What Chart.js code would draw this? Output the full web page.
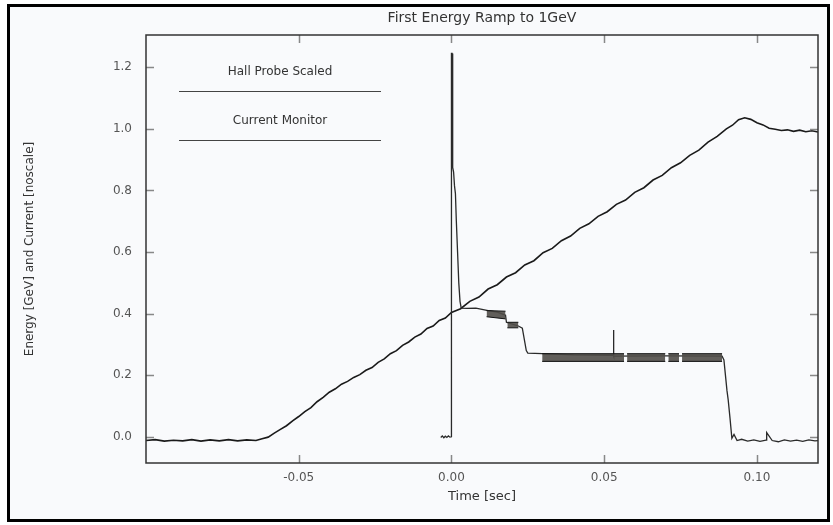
<!DOCTYPE html>
<html>
<head>
<meta charset="utf-8">
<title>First Energy Ramp to 1GeV</title>
<script src="https://cdn.jsdelivr.net/npm/chart.js@4.4.1/dist/chart.umd.min.js"></script>
<style>
    body { margin: 0; background: #ffffff; }
    #wrap { width: 833px; height: 525px; }
</style>
</head>
<body>
<div id="wrap"><canvas id="rampChart" width="833" height="525"></canvas></div>
<script>
// Hall probe (energy) ma'lumotlari
const energyTime = [
    -0.100, -0.097, -0.094, -0.091, -0.088, -0.085, -0.082, -0.079, -0.076, -0.073,
    -0.070, -0.067, -0.064, -0.062, -0.060, -0.058, -0.056, -0.054, -0.052, -0.050,
    -0.048, -0.046, -0.044, -0.042, -0.040, -0.038, -0.036, -0.034, -0.032, -0.030,
    -0.028, -0.026, -0.024, -0.022, -0.020, -0.018, -0.016, -0.014, -0.012, -0.010,
    -0.008, -0.006, -0.004, -0.002, 0.000, 0.003, 0.006, 0.009, 0.012, 0.015,
    0.018, 0.021, 0.024, 0.027, 0.030, 0.033, 0.036, 0.039, 0.042, 0.045,
    0.048, 0.051, 0.054, 0.057, 0.060, 0.063, 0.066, 0.069, 0.072, 0.075,
    0.078, 0.081, 0.084, 0.087, 0.090, 0.092, 0.094, 0.096, 0.098, 0.100,
    0.102, 0.104, 0.106, 0.108, 0.110, 0.112, 0.114, 0.116, 0.118, 0.120
];
const energyValue = [
    -0.012, -0.009, -0.014, -0.011, -0.013, -0.009, -0.014, -0.010, -0.013, -0.009,
    -0.013, -0.010, -0.012, -0.006, -0.001, 0.012, 0.024, 0.036, 0.052, 0.066,
    0.082, 0.095, 0.114, 0.128, 0.145, 0.156, 0.171, 0.180, 0.193, 0.202,
    0.216, 0.225, 0.242, 0.253, 0.270, 0.280, 0.297, 0.308, 0.324, 0.334,
    0.352, 0.360, 0.378, 0.386, 0.404, 0.416, 0.440, 0.454, 0.480, 0.494,
    0.519, 0.533, 0.558, 0.572, 0.598, 0.612, 0.637, 0.652, 0.677, 0.692,
    0.716, 0.731, 0.755, 0.769, 0.794, 0.809, 0.834, 0.849, 0.874, 0.890,
    0.914, 0.931, 0.957, 0.976, 1.000, 1.012, 1.030, 1.036, 1.031, 1.020,
    1.013, 1.002, 0.999, 0.995, 0.997, 0.992, 0.996, 0.991, 0.994, 0.990
];

// Current monitor ma'lumotlari
const currentTime = [
    -0.0035, -0.0030, -0.0025, -0.0020, -0.0015, -0.0010, -0.0005, 0.0000, 0.0000, 0.0002,
    0.0004, 0.0007, 0.0010, 0.0013, 0.0016, 0.0020, 0.0024, 0.0028, 0.0032, 0.0050,
    0.0080, 0.0100, 0.0120, 0.0150, 0.0177, 0.0180, 0.0219, 0.0232, 0.0245, 0.0250,
    0.0297, 0.0400, 0.0530, 0.0530, 0.0532, 0.0700, 0.0886, 0.0892, 0.0898, 0.0902,
    0.0906, 0.0912, 0.0918, 0.0925, 0.0935, 0.0950, 0.0970, 0.0990, 0.1010, 0.1030,
    0.1032, 0.1050, 0.1070, 0.1090, 0.1110, 0.1130, 0.1150, 0.1170, 0.1190, 0.1200
];
const currentValue = [
    -0.002, 0.003, -0.003, 0.002, -0.002, 0.003, -0.001, 0.000, 1.245, 1.245,
    0.875, 0.860, 0.815, 0.790, 0.700, 0.600, 0.500, 0.440, 0.418, 0.417,
    0.418, 0.414, 0.410, 0.405, 0.395, 0.372, 0.360, 0.353, 0.280, 0.272,
    0.270, 0.266, 0.265, 0.347, 0.262, 0.263, 0.262, 0.250, 0.190, 0.150,
    0.120, 0.060, -0.005, 0.008, -0.012, -0.008, -0.014, -0.010, -0.015, -0.011,
    0.014, -0.012, -0.016, -0.010, -0.014, -0.011, -0.015, -0.010, -0.013, -0.012
];

// Current monitor shovqin polosasi (null = uzilish)
const bandTime = [
    0.0115, 0.0177, 0.0180,
    0.0183, 0.0219, 0.0222,
    0.0297, 0.0565, 0.0570,
    0.0575, 0.0700, 0.0705,
    0.0710, 0.0745, 0.0750,
    0.0755, 0.0886
];
const bandHigh = [
    0.410, 0.408, null,
    0.372, 0.372, null,
    0.270, 0.270, null,
    0.270, 0.270, null,
    0.270, 0.270, null,
    0.270, 0.270
];
const bandLow = [
    0.390, 0.383, null,
    0.354, 0.354, null,
    0.245, 0.245, null,
    0.245, 0.245, null,
    0.245, 0.245, null,
    0.245, 0.245
];

const xTicks = [-0.05, 0.00, 0.05, 0.10];
const yTicks = [0.0, 0.2, 0.4, 0.6, 0.8, 1.0, 1.2];
const legendLabels = ['Hall Probe Scaled', 'Current Monitor'];
const chartTitle = 'First Energy Ramp to 1GeV';

function toPoints(xs, ys) {
    return xs.map((x, i) => ({ x: x, y: ys[i] }));
}

const FONT = '"DejaVu Sans", "Liberation Sans", sans-serif';

// Ramka, sarlavha, ichki chiziqchalar va legenda
const framePlugin = {
    id: 'frame',
    beforeDraw(chart) {
        const c = chart.ctx;
        c.save();
        c.fillStyle = '#ffffff';
        c.fillRect(0, 0, chart.width, chart.height);
        c.fillStyle = '#f9fafc';
        c.fillRect(9, 6, 820, 515);
        c.strokeStyle = '#000000';
        c.lineWidth = 3;
        c.strokeRect(8.5, 5.5, 820, 515);
        c.restore();
    },
    afterDraw(chart) {
        const c = chart.ctx;
        const a = chart.chartArea;
        const xs = chart.scales.x;
        const ys = chart.scales.y;
        c.save();

        // sarlavha
        c.fillStyle = '#333333';
        c.font = '14px ' + FONT;
        c.textAlign = 'center';
        c.textBaseline = 'middle';
        c.fillText(chartTitle, (a.left + a.right) / 2, 18);

        // ichki chiziqchalar
        c.strokeStyle = '#888888';
        c.lineWidth = 1.5;
        const len = 8;
        xTicks.forEach(v => {
            const px = Math.round(xs.getPixelForValue(v)) + 0.5;
            c.beginPath();
            c.moveTo(px, a.bottom); c.lineTo(px, a.bottom - len);
            c.moveTo(px, a.top); c.lineTo(px, a.top + len);
            c.stroke();
        });
        yTicks.forEach(v => {
            const py = Math.round(ys.getPixelForValue(v)) + 0.5;
            c.beginPath();
            c.moveTo(a.left, py); c.lineTo(a.left + len, py);
            c.moveTo(a.right, py); c.lineTo(a.right - len, py);
            c.stroke();
        });

        // chizma ramkasi
        c.strokeStyle = '#333333';
        c.lineWidth = 1.5;
        c.strokeRect(a.left, a.top, a.right - a.left, a.bottom - a.top);

        // legenda
        c.fillStyle = '#333333';
        c.font = '12px ' + FONT;
        c.strokeStyle = '#444444';
        c.lineWidth = 1.2;
        legendLabels.forEach((label, i) => {
            const ty = 72 + i * 49;
            c.fillText(label, 280, ty);
            c.beginPath();
            c.moveTo(179, ty + 19.5);
            c.lineTo(381, ty + 19.5);
            c.stroke();
        });
        c.restore();
    }
};

const ctx = document.getElementById('rampChart');

new Chart(ctx, {
    type: 'scatter',
    data: {
        datasets: [{
            label: 'bandHigh',
            data: toPoints(bandTime, bandHigh),
            showLine: true,
            borderColor: '#111111',
            borderWidth: 1,
            pointRadius: 0,
            fill: false,
            spanGaps: false
        }, {
            label: 'bandLow',
            data: toPoints(bandTime, bandLow),
            showLine: true,
            borderColor: '#111111',
            borderWidth: 1,
            backgroundColor: 'rgba(80, 76, 72, 0.9)',
            pointRadius: 0,
            fill: '-1',
            spanGaps: false
        }, {
            label: legendLabels[1],
            data: toPoints(currentTime, currentValue),
            showLine: true,
            borderColor: '#2a2a2a',
            borderWidth: 1.3,
            pointRadius: 0,
            fill: false
        }, {
            label: legendLabels[0],
            data: toPoints(energyTime, energyValue),
            showLine: true,
            borderColor: '#1a1a1a',
            borderWidth: 1.6,
            pointRadius: 0,
            fill: false
        }]
    },
    options: {
        responsive: false,
        animation: false,
        devicePixelRatio: 1,
        layout: {
            padding: { top: 35, right: 15, left: 0, bottom: 0 }
        },
        plugins: {
            legend: { display: false },
            title: { display: false },
            tooltip: { enabled: false }
        },
        scales: {
            x: {
                type: 'linear',
                min: -0.1,
                max: 0.12,
                afterBuildTicks: scale => {
                    scale.ticks = xTicks.map(v => ({ value: v }));
                },
                afterFit: scale => { scale.height = 62; },
                grid: { display: false, drawTicks: false, tickLength: 0 },
                border: { display: false },
                ticks: {
                    padding: 8,
                    color: '#555555',
                    font: { family: FONT, size: 12 },
                    maxRotation: 0,
                    callback: v => v.toFixed(2)
                },
                title: {
                    display: true,
                    text: 'Time [sec]',
                    color: '#333333',
                    font: { family: FONT, size: 13 },
                    padding: { top: 0, bottom: 21 }
                }
            },
            y: {
                type: 'linear',
                min: -0.085,
                max: 1.305,
                afterBuildTicks: scale => {
                    scale.ticks = yTicks.map(v => ({ value: v }));
                },
                afterFit: scale => { scale.width = 146; },
                grid: { display: false, drawTicks: false, tickLength: 0 },
                border: { display: false },
                ticks: {
                    padding: 14,
                    color: '#555555',
                    font: { family: FONT, size: 12 },
                    callback: v => v.toFixed(1)
                },
                title: {
                    display: true,
                    text: 'Energy [GeV] and Current [noscale]',
                    color: '#333333',
                    font: { family: FONT, size: 12 },
                    padding: { top: 23, bottom: 0 }
                }
            }
        }
    },
    plugins: [framePlugin]
});
</script>
</body>
</html>
